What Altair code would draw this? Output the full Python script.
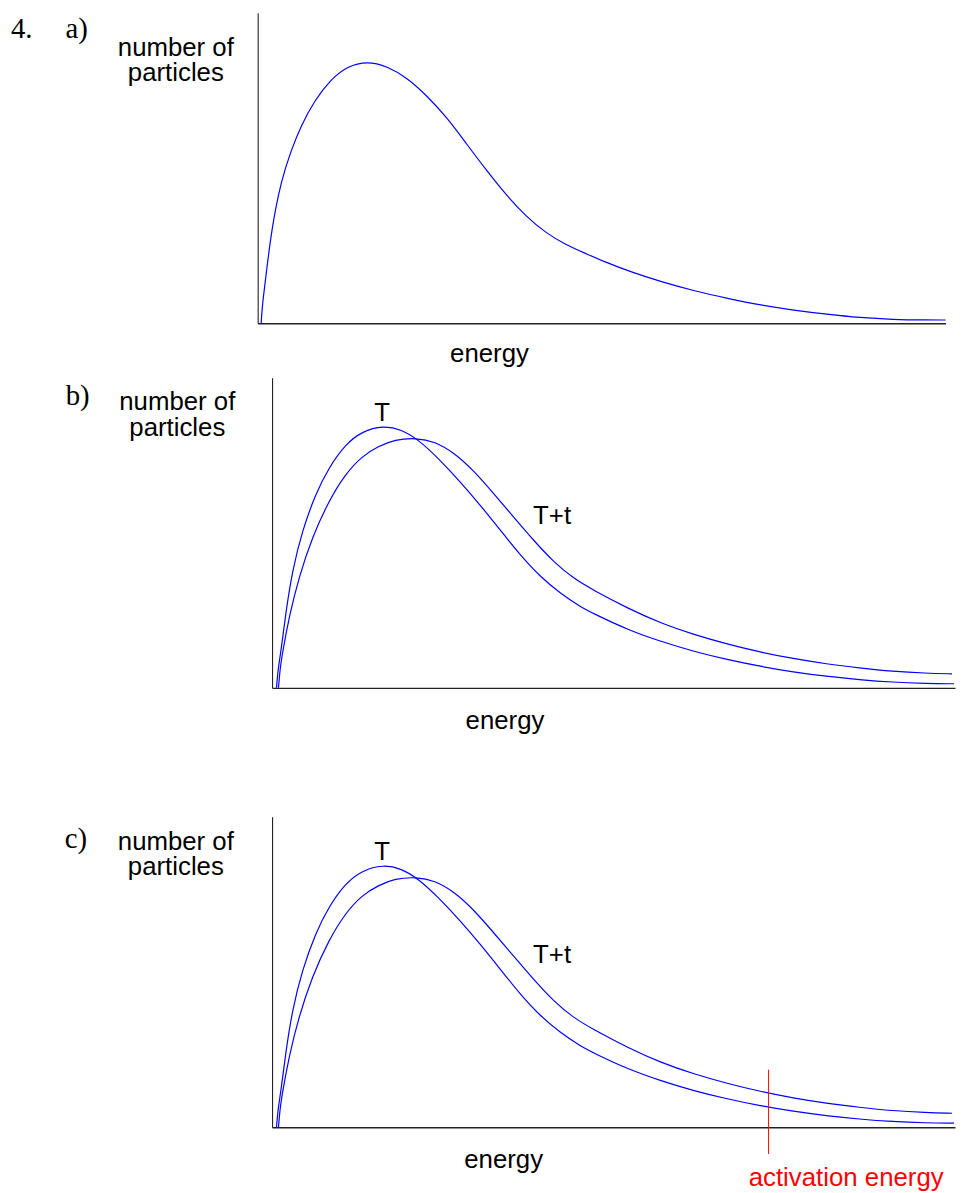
import altair as alt
import pandas as pd

# ---------------- data (arbitrary units) ----------------
# panel a: one distribution curve
a_energy = [0.50, 0.72, 1.04, 1.99, 3.43, 4.87, 6.32, 8.25, 10.64, 13.05, 15.93,
            18.82, 21.70, 24.59, 27.47, 30.35, 33.24, 36.12, 39.00, 41.89, 44.77,
            47.66, 50.54, 53.90, 58.72, 63.52, 68.32, 73.14, 77.94, 82.74, 87.56,
            92.36, 97.16, 100.0]
a_count = [0.0, 6.7, 12.1, 30.1, 46.1, 55.7, 63.7, 71.7, 78.6, 82.8, 84.4,
           82.8, 79.1, 73.3, 66.4, 57.8, 49.3, 41.3, 34.4, 29.1, 25.3,
           22.5, 19.7, 16.8, 13.3, 10.4, 8.0, 5.8, 4.2, 2.9, 1.8,
           1.2, 1.05, 1.05]

# panels b and c: temperature T
T_energy = [0.65, 0.87, 1.28, 2.00, 2.98, 4.43, 6.36, 8.31, 10.72, 13.14, 16.30,
            18.95, 21.38, 24.28, 27.67, 30.57, 33.48, 36.38, 39.29, 42.19, 45.10,
            47.28, 52.11, 56.96, 61.80, 66.64, 71.49, 76.33, 81.16, 86.01, 90.85,
            95.69, 99.85]
T_count = [0.0, 5.9, 11.3, 24.1, 37.9, 50.7, 62.5, 71.0, 78.5, 82.7, 84.6,
           83.3, 80.1, 74.2, 66.2, 58.7, 50.7, 42.7, 35.8, 30.5, 26.2,
           23.7, 18.7, 14.9, 11.7, 9.1, 6.9, 5.1, 3.7, 2.6, 1.8,
           1.4, 1.3]

# panels b and c: temperature T+t
Tt_energy = [0.94, 1.16, 1.53, 2.50, 3.95, 5.88, 8.31, 10.72, 13.14, 15.57, 17.98,
             21.13, 23.79, 26.70, 29.60, 32.51, 35.41, 38.32, 41.22, 44.12, 47.03,
             52.11, 56.96, 61.80, 66.64, 71.49, 76.33, 81.16, 86.01, 90.85, 95.69,
             99.56]
Tt_count = [0.0, 5.9, 11.3, 23.0, 35.8, 48.6, 60.3, 68.9, 74.7, 77.9, 80.1,
            80.6, 79.5, 75.8, 69.9, 62.5, 55.0, 47.5, 40.6, 35.3, 31.5,
            25.6, 20.8, 17.1, 14.1, 11.5, 9.4, 7.7, 6.4, 5.3, 4.7,
            4.5]

curve_labels = ["T", "T+t"]
curve_label_energy = [16.1, 41.0]
curve_label_count = [86.2, 53.0]

activation_energy = 72.7
activation_line = [18.5, -8.6]
activation_text_count = -18.8

y_title = ["number of", "particles"]
x_title = "energy"

# ---------------- styling ----------------
BLUE = "#0000ff"
RED = "#ff0000"
SANS = "Liberation Sans"
SERIF = "Liberation Serif"
W = 703


def enc(xrange, height, ytop, xtitle_x, xtitle_y, ytitle_x, ytitle_y, yoffset):
    x = alt.X(
        "energy:Q",
        scale=alt.Scale(domain=[0, 100], range=xrange, nice=False, zero=False),
        axis=alt.Axis(
            title=x_title, labels=False, ticks=False, grid=False,
            domainColor="#222222", domainWidth=1.3,
            titleFont=SANS, titleFontSize=26, titleFontWeight="normal",
            titleColor="black", titleX=xtitle_x, titleY=xtitle_y,
            titleAlign="center", titleBaseline="alphabetic", titleAngle=0,
        ),
    )
    y = alt.Y(
        "count:Q",
        scale=alt.Scale(domain=[0, 100], range=[height, ytop], nice=False, zero=False),
        axis=alt.Axis(
            title=y_title, labels=False, ticks=False, grid=False,
            domainColor="#222222", domainWidth=1.1, offset=yoffset,
            titleFont=SANS, titleFontSize=26, titleFontWeight="normal",
            titleColor="black", titleX=ytitle_x, titleY=ytitle_y,
            titleAlign="center", titleBaseline="alphabetic", titleAngle=0,
            titleLineHeight=25.5,
        ),
    )
    return x, y


def curve(energy, count, x, y):
    df = pd.DataFrame({"energy": energy, "count": count})
    return alt.Chart(df).mark_line(
        color=BLUE, strokeWidth=1.2, interpolate="basis"
    ).encode(x=x, y=y)


def corner_label(text, px, py):
    return alt.Chart(pd.DataFrame({"t": [text]})).mark_text(
        font=SERIF, fontSize=29, color="black", align="left", baseline="alphabetic"
    ).encode(text="t:N", x=alt.value(px), y=alt.value(py))


def curve_text(x, y):
    df = pd.DataFrame({"label": curve_labels, "energy": curve_label_energy,
                       "count": curve_label_count})
    return alt.Chart(df).mark_text(
        font=SANS, fontSize=26, color="black", align="center", baseline="alphabetic"
    ).encode(x=x, y=y, text="label:N")


# ---------------- panel a ----------------
Ha = 313
xa, ya = enc([0, 693.5], Ha, 0, 233.2, 38.3, -83, 43, 0)
panel_a = alt.layer(
    curve(a_energy, a_count, xa, ya),
    corner_label("4.", -248.8, 25),
    corner_label("a)", -193.8, 25),
).properties(width=W, height=Ha)

# ---------------- panel b ----------------
Hb = 367.5
xb, yb = enc([14.5, 703], Hb, 55, 248.8, 40.8, -96, 87.3, -14.5)
panel_b = alt.layer(
    curve(T_energy, T_count, xb, yb),
    curve(Tt_energy, Tt_count, xb, yb),
    curve_text(xb, yb),
    corner_label("b)", -193.5, 82),
).properties(width=W, height=Hb)

# ---------------- panel c ----------------
Hc = 442.5
xc, yc = enc([14.5, 703], Hc, 129.5, 247.5, 40.5, -97.5, 162.5, -14.5)
ea_df = pd.DataFrame({"energy": [activation_energy], "count": [activation_line[0]],
                      "count2": [activation_line[1]]})
ea_rule = alt.Chart(ea_df).mark_rule(color=RED, strokeWidth=1).encode(
    x=xc, y=yc, y2="count2:Q"
)
ea_text_df = pd.DataFrame({"energy": [activation_energy], "count": [activation_text_count],
                           "label": ["activation energy"]})
ea_text = alt.Chart(ea_text_df).mark_text(
    font=SANS, fontSize=26, color=RED, align="left", baseline="alphabetic", dx=-20
).encode(x=xc, y=yc, text="label:N")

panel_c = alt.layer(
    curve(T_energy, T_count, xc, yc),
    curve(Tt_energy, Tt_count, xc, yc),
    curve_text(xc, yc),
    ea_rule,
    ea_text,
    corner_label("c)", -194.5, 161.5),
).properties(width=W, height=Hc)

chart = alt.vconcat(panel_a, panel_b, panel_c, spacing=0, bounds="flush").properties(
    padding={"left": 2.7, "top": 0, "right": 0, "bottom": 0}
).configure_view(strokeWidth=0)

chart.save("out.html", embed_options={"renderer": "svg", "actions": False})
